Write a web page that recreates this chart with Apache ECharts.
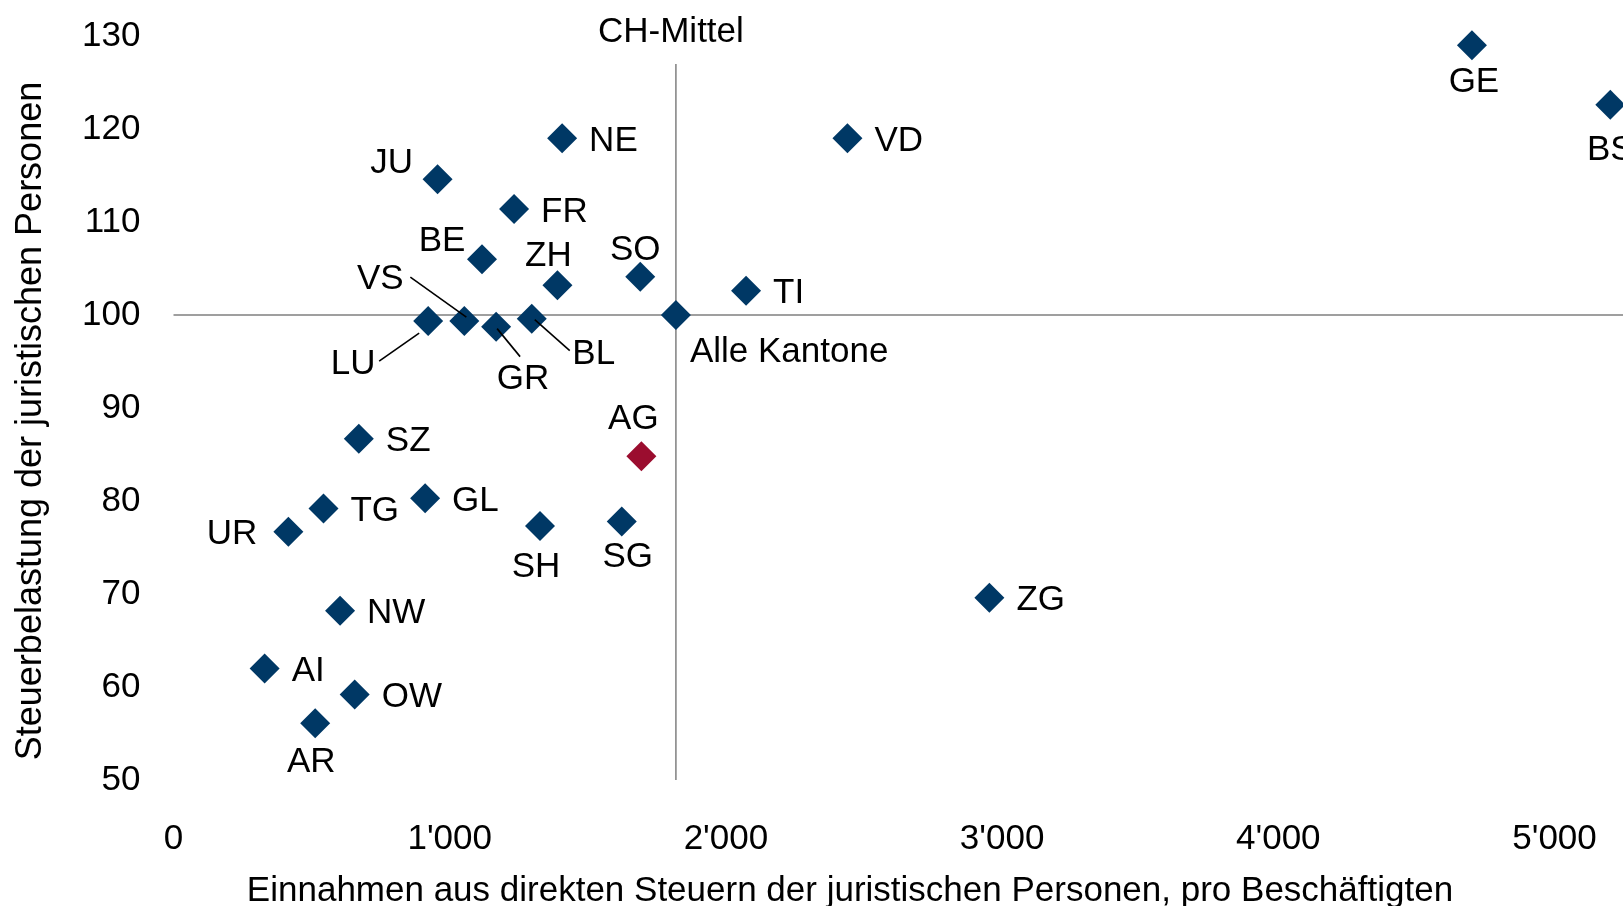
<!DOCTYPE html>
<html>
<head>
<meta charset="utf-8">
<script src="https://cdn.jsdelivr.net/npm/echarts@6/dist/echarts.min.js"></script>
<style>
  html, body { margin: 0; padding: 0; background: #fff; }
  #chart { width: 1623px; height: 906px; }
</style>
</head>
<body>
<div id="chart"></div>
<script>
// Kantone: Einnahmen pro Beschäftigten (x) vs. Steuerbelastung (y)
const cantons = ['GE', 'BS', 'NE', 'VD', 'JU', 'FR', 'BE', 'ZH', 'SO', 'TI', 'Alle Kantone', 'LU', 'VS', 'GR', 'BL',
  'AG', 'SZ', 'GL', 'TG', 'UR', 'SH', 'SG', 'ZG', 'NW', 'AI', 'OW', 'AR']
const revenue = [4701, 5202, 1407, 2440, 956, 1233, 1117, 1390, 1690, 2073, 1819, 922, 1053, 1168, 1297,
  1694, 671, 911, 543, 416, 1327, 1623, 2954, 603, 330, 656, 513]
const burden = [129.0, 122.6, 119.0, 119.0, 114.6, 111.4, 106.0, 103.2, 104.1, 102.6, 100, 99.35, 99.35, 98.75, 99.6,
  84.8, 86.7, 80.3, 79.2, 76.7, 77.3, 77.8, 69.6, 68.2, 62.0, 59.2, 56.1]
const highlight = 'AG'
const average = 'Alle Kantone'

const xTicks = [0, 1000, 2000, 3000, 4000, 5000]
const yTicks = [50, 60, 70, 80, 90, 100, 110, 120, 130]
const xView = 5248 // right edge of the visible plot (chart is cut off there)
const avgLineTop = 127

const FONT = '"Liberation Sans", Arial, Helvetica, sans-serif'
const FS = 35
const BLUE = '#003865'
const RED = '#9b0d2f'

// label centre offsets from the marker; the rest sit to the right
const labelOffset = {
  GE: [2, 37], BS: [0, 46], JU: [-46, -16], BE: [-40, -18], ZH: [-9, -29], SO: [-5, -27],
  AG: [-8, -37], SH: [-4, 41], SG: [6, 36], AR: [-4, 39],
  LU: [-75, 43], VS: [-84, -42], GR: [27, 53], BL: [62, 36]
}
// leader lines: [start, end] offsets from the marker centre
const leaders = {
  LU: [[-49, 40], [-9, 12]],
  VS: [[-54, -44], [2, -4]],
  GR: [[24, 30], [1, 2]],
  BL: [[38, 32], [3, 1]]
}

const fmtThousands = (v) => String(v).replace(/\B(?=(\d{3})+(?!\d))/g, "'")

const avgIdx = cantons.indexOf(average)
const avgX = revenue[avgIdx]
const avgY = burden[avgIdx]

const points = cantons.map((name, i) => {
  const item = { name, value: [revenue[i], burden[i]] }
  if (name === highlight) item.itemStyle = { color: RED }
  const off = labelOffset[name]
  if (off) item.label = { position: 'inside', offset: off }
  if (name === 'UR') item.label = { position: 'left', distance: 16 }
  if (name === average) item.label = { position: 'inside', align: 'left', offset: [14, 37] }
  return item
})

const chart = echarts.init(document.getElementById('chart'))

const option = {
  animation: false,
  backgroundColor: '#fff',
  textStyle: { fontFamily: FONT },
  grid: { left: 173.5, right: 0, top: 36, bottom: 126, containLabel: false, outerBoundsMode: 'none' },
  xAxis: {
    type: 'value',
    min: xTicks[0],
    max: xView,
    interval: xTicks[1] - xTicks[0],
    axisLine: { show: false },
    axisTick: { show: false },
    splitLine: { show: false },
    axisLabel: {
      margin: 42,
      fontSize: FS,
      color: '#000',
      fontFamily: FONT,
      showMaxLabel: false,
      formatter: fmtThousands
    }
  },
  yAxis: {
    type: 'value',
    min: yTicks[0],
    max: yTicks[yTicks.length - 1],
    interval: yTicks[1] - yTicks[0],
    axisLine: { show: false },
    axisTick: { show: false },
    splitLine: { show: false },
    axisLabel: { margin: 33, fontSize: FS, color: '#000', fontFamily: FONT, padding: [10, 0, 0, 0] }
  },
  series: [
    {
      type: 'line',
      z: 1,
      symbol: 'none',
      silent: true,
      lineStyle: { color: '#7f7f7f', width: 1.5 },
      data: [[avgX, yTicks[0]], [avgX, avgLineTop]]
    },
    {
      type: 'line',
      z: 1,
      symbol: 'none',
      silent: true,
      lineStyle: { color: '#7f7f7f', width: 1.5 },
      data: [[xTicks[0], avgY], [xView, avgY]]
    },
    {
      type: 'scatter',
      z: 3,
      symbol: 'diamond',
      symbolSize: 30,
      itemStyle: { color: BLUE, opacity: 1 },
      label: {
        show: true,
        formatter: '{b}',
        position: 'right',
        distance: 12,
        offset: [0, 3],
        fontSize: FS,
        fontFamily: FONT,
        color: '#000'
      },
      data: points
    }
  ]
}

chart.setOption(option)

// axis titles, CH-Mittel caption and leader lines (pixel positions from the chart's own scales)
const txt = (id, text, x, y, size, rotation) => ({
  type: 'text', id, x, y, rotation: rotation || 0, z: 100,
  style: { text, x: 0, y: 0, align: 'center', verticalAlign: 'middle', font: size + 'px ' + FONT, fill: '#000' }
})
const avgTop = chart.convertToPixel({ gridIndex: 0 }, [avgX, avgLineTop])
const graphics = [
  txt('xTitle', 'Einnahmen aus direkten Steuern der juristischen Personen, pro Beschäftigten', 850, 891, FS),
  txt('yTitle', 'Steuerbelastung der juristischen Personen', 31, 421, 36, Math.PI / 2),
  txt('avgTitle', 'CH-Mittel', avgTop[0] - 5, avgTop[1] - 32, FS)
]
Object.keys(leaders).forEach((name) => {
  const i = cantons.indexOf(name)
  const p = chart.convertToPixel({ gridIndex: 0 }, [revenue[i], burden[i]])
  const [s, e] = leaders[name]
  graphics.push({
    type: 'line', id: 'leader-' + name, z: 100,
    shape: { x1: p[0] + s[0], y1: p[1] + s[1], x2: p[0] + e[0], y2: p[1] + e[1] },
    style: { stroke: '#000', lineWidth: 1.6 }
  })
})
chart.setOption({ graphic: graphics })

window.addEventListener('resize', () => chart.resize())
</script>
</body>
</html>
